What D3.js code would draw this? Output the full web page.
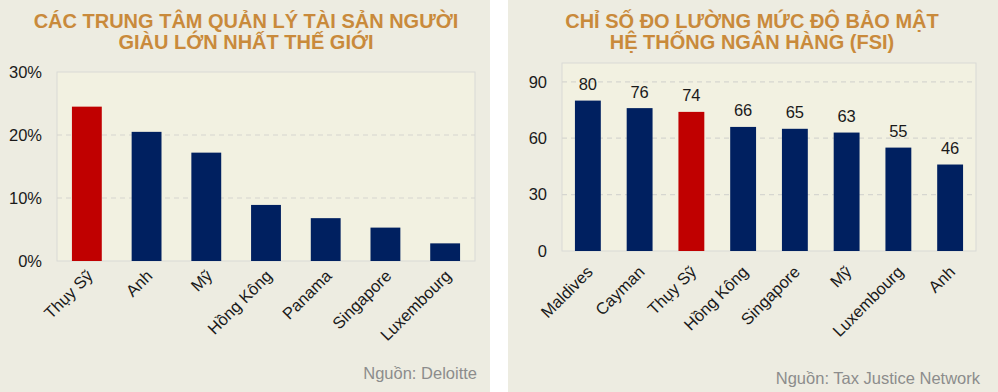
<!DOCTYPE html>
<html>
  <head>
    <meta charset="utf-8">
    <title>Trung tâm quản lý tài sản & FSI</title>
    <script src="https://d3js.org/d3.v7.min.js"></script>
    <style>
      body { margin: 0; background: #ffffff; }
      svg text { font-family: "Liberation Sans", Arial, sans-serif; }
    </style>
  </head>
  <body>
    <div id="chart"></div>
    <script>
    // data
    const wealthCountries = ["Thụy Sỹ", "Anh", "Mỹ", "Hồng Kông", "Panama", "Singapore", "Luxembourg"];
    const wealthShare = [24.5, 20.5, 17.2, 8.9, 6.8, 5.3, 2.8];
    const wealthTicks = [0, 10, 20, 30];

    const fsiCountries = ["Maldives", "Cayman", "Thụy Sỹ", "Hồng Kông", "Singapore", "Mỹ", "Luxembourg", "Anh"];
    const fsiScore = [80, 76, 74, 66, 65, 63, 55, 46];
    const fsiTicks = [0, 30, 60, 90];

    const highlight = "Thụy Sỹ";
    const red = "#c00000", navy = "#002060";

    const svg = d3.select("#chart")
      .append("svg")
      .attr("width", 998)
      .attr("height", 392);

    function drawPanel(opt) {
      const g = svg.append("g");

      // panel background
      g.append("rect")
        .attr("x", opt.px).attr("y", 0)
        .attr("width", opt.pw).attr("height", 392)
        .attr("fill", "#edece1");

      // title, two lines
      const title = g.append("text")
        .attr("text-anchor", "middle")
        .attr("font-size", 20)
        .attr("font-weight", "bold")
        .attr("fill", "#c98a3b");
      opt.title.forEach((t, i) => {
        title.append("tspan")
          .attr("x", opt.titleX)
          .attr("y", 27.5 + i * 21.5)
          .text(t);
      });

      const m = opt.plot;
      const x = d3.scaleBand()
        .domain(opt.cats)
        .range([m.left, m.right])
        .paddingInner(0.5)
        .paddingOuter(0.25);
      const y = d3.scaleLinear()
        .domain([0, opt.max])
        .range([m.bottom, m.top]);

      // plot area
      g.append("rect")
        .attr("x", m.left).attr("y", m.top)
        .attr("width", m.right - m.left).attr("height", m.bottom - m.top)
        .attr("fill", "#f2f1e1")
        .attr("stroke", "#d9d9d6")
        .attr("stroke-width", 1);

      // dashed gridlines
      g.selectAll(".grid")
        .data(opt.ticks.filter(d => d > 0 && d < opt.max))
        .enter().append("line")
        .attr("x1", m.left).attr("x2", m.right)
        .attr("y1", d => y(d)).attr("y2", d => y(d))
        .attr("stroke", "#d6d6d0")
        .attr("stroke-width", 1.2)
        .attr("stroke-dasharray", "5,4");

      // y axis labels
      const yAxis = d3.axisLeft(y)
        .tickValues(opt.ticks)
        .tickSize(0)
        .tickPadding(opt.tickPad)
        .tickFormat(opt.fmt);
      const ya = g.append("g")
        .attr("transform", `translate(${m.left},0)`)
        .call(yAxis);
      ya.select(".domain").remove();
      ya.selectAll("text")
        .attr("font-size", 16.5)
        .attr("fill", "#1a1a1a")
        .style("font-family", "Liberation Sans, Arial, sans-serif");

      // bars
      g.selectAll(".bar")
        .data(opt.cats.map((c, i) => [c, opt.vals[i]]))
        .enter().append("rect")
        .attr("x", d => x(d[0]))
        .attr("y", d => y(d[1]))
        .attr("width", x.bandwidth())
        .attr("height", d => y(0) - y(d[1]))
        .attr("fill", d => d[0] === highlight ? red : navy);

      // value labels
      if (opt.labels) {
        g.selectAll(".val")
          .data(opt.cats.map((c, i) => [c, opt.vals[i]]))
          .enter().append("text")
          .attr("x", d => x(d[0]) + x.bandwidth() / 2)
          .attr("y", d => y(d[1]) - 10.5)
          .attr("text-anchor", "middle")
          .attr("font-size", 16.5)
          .attr("fill", "#1a1a1a")
          .text(d => d[1]);
      }

      // x labels rotated
      g.selectAll(".xl")
        .data(opt.cats)
        .enter().append("text")
        .attr("text-anchor", "end")
        .attr("font-size", 16.5)
        .attr("fill", "#1a1a1a")
        .attr("transform", d => `translate(${x(d) + x.bandwidth() / 2 + opt.lab[0]},${m.bottom + opt.lab[1]}) rotate(-45)`)
        .text(d => d);

      // source
      g.append("text")
        .attr("x", opt.srcX)
        .attr("y", opt.srcY)
        .attr("text-anchor", "end")
        .attr("font-size", 16.5)
        .attr("fill", "#8c8c8c")
        .text(opt.source);
    }

    drawPanel({
      px: 0, pw: 490,
      title: ["CÁC TRUNG TÂM QUẢN LÝ TÀI SẢN NGƯỜI", "GIÀU LỚN NHẤT THẾ GIỚI"],
      titleX: 246,
      plot: {left: 57, right: 475, top: 72, bottom: 261},
      cats: wealthCountries, vals: wealthShare,
      max: 30, ticks: wealthTicks, fmt: d => d + "%", tickPad: 15,
      labels: false, lab: [7, 16],
      source: "Nguồn: Deloitte", srcX: 477, srcY: 379
    });

    drawPanel({
      px: 508, pw: 490,
      title: ["CHỈ SỐ ĐO LƯỜNG MỨC ĐỘ BẢO MẬT", "HỆ THỐNG NGÂN HÀNG (FSI)"],
      titleX: 752,
      plot: {left: 562, right: 976, top: 63, bottom: 251},
      cats: fsiCountries, vals: fsiScore,
      max: 100, ticks: fsiTicks, fmt: d => d, tickPad: 15,
      labels: true, lab: [6, 22],
      source: "Nguồn: Tax Justice Network", srcX: 980, srcY: 384
    });
    </script>
  </body>
</html>
